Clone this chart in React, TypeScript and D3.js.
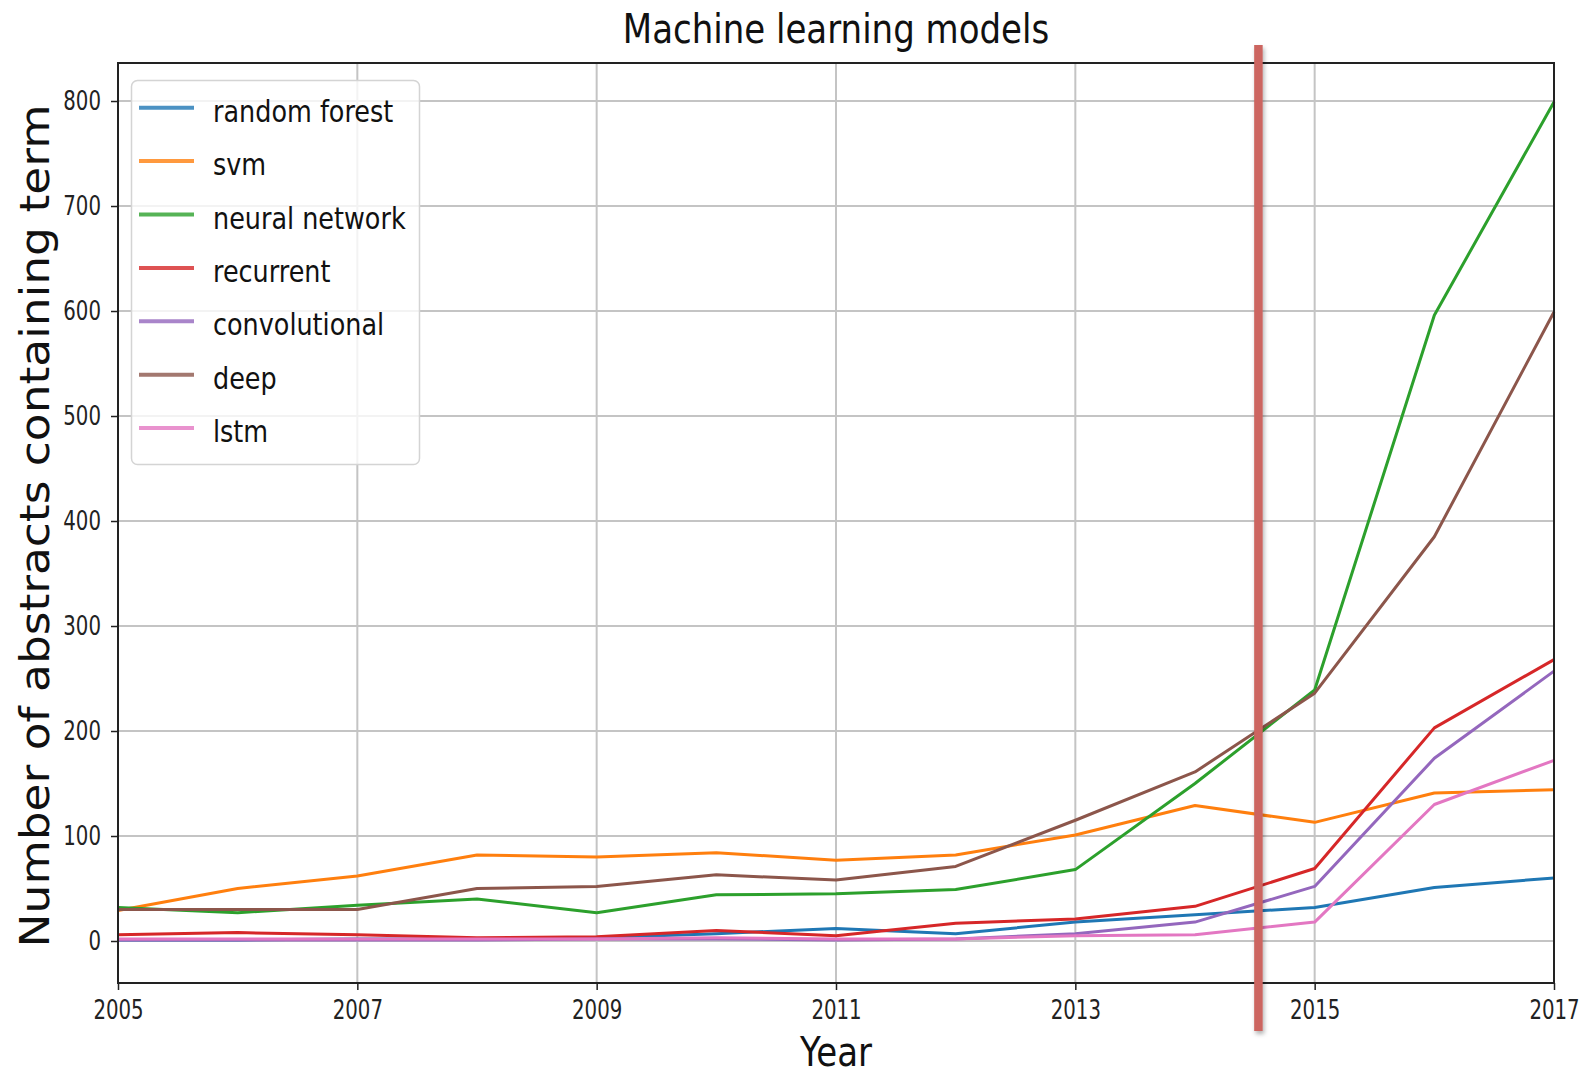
import { useEffect, useRef } from "react";
import * as d3 from "d3";

const years = [2005, 2006, 2007, 2008, 2009, 2010, 2011, 2012, 2013, 2014, 2015, 2016, 2017];

const randomForest = [1, 1, 2, 2, 3, 7, 12, 7, 18, 25, 32, 51, 60];
const svm = [29, 50, 62, 82, 80, 84, 77, 82, 101, 129, 113, 141, 144];
const neuralNetwork = [32, 27, 34, 40, 27, 44, 45, 49, 68, 150, 239, 596, 799];
const recurrent = [6, 8, 6, 3, 4, 10, 5, 17, 21, 33, 69, 203, 268];
const convolutional = [1, 1, 1, 1, 2, 2, 1, 2, 7, 18, 52, 174, 257];
const deep = [30, 30, 30, 50, 52, 63, 58, 71, 115, 161, 236, 385, 599];
const lstm = [2, 2, 2, 2, 2, 3, 2, 2, 5, 6, 18, 130, 172];

const seriesNames = ["random forest", "svm", "neural network", "recurrent", "convolutional", "deep", "lstm"];
const seriesValues = [randomForest, svm, neuralNetwork, recurrent, convolutional, deep, lstm];
const colors = ["#1f77b4", "#ff7f0e", "#2ca02c", "#d62728", "#9467bd", "#8c564b", "#e377c2"];

const xTicks = [2005, 2007, 2009, 2011, 2013, 2015, 2017];
const yTicks = [0, 100, 200, 300, 400, 500, 600, 700, 800];
const markerYear = 2014.53;

const FONT = "'DejaVu Sans', 'Liberation Sans', sans-serif";

export default function App() {
  const svgRef = useRef<SVGSVGElement>(null);

  useEffect(() => {
    if (!svgRef.current) return;
    const svg = d3.select(svgRef.current);
    svg.selectAll("*").remove();

    const W = 1585;
    const H = 1079;
    const left = 118;
    const right = 1554;
    const top = 63;
    const bottom = 983;

    const x = d3.scaleLinear().domain([2005, 2017]).range([left, right]);
    const y = d3.scaleLinear().domain([-40, 836.2]).range([bottom, top]);

    svg.attr("width", W).attr("height", H);

    const defs = svg.append("defs");
    const shadow = defs
      .append("filter")
      .attr("id", "shadow")
      .attr("filterUnits", "userSpaceOnUse")
      .attr("x", 0)
      .attr("y", 0)
      .attr("width", W)
      .attr("height", H);
    shadow
      .append("feDropShadow")
      .attr("dx", 1.5)
      .attr("dy", 3)
      .attr("stdDeviation", 2)
      .attr("flood-color", "#000")
      .attr("flood-opacity", 0.3);

    svg.append("rect").attr("width", W).attr("height", H).attr("fill", "#fff");

    // grid
    const grid = svg.append("g");
    grid
      .selectAll(".vg")
      .data(xTicks)
      .join("line")
      .attr("x1", (d) => x(d))
      .attr("x2", (d) => x(d))
      .attr("y1", top)
      .attr("y2", bottom)
      .attr("stroke", "#c4c4c4")
      .attr("stroke-width", 2);
    grid
      .selectAll(".hg")
      .data(yTicks)
      .join("line")
      .attr("x1", left)
      .attr("x2", right)
      .attr("y1", (d) => y(d))
      .attr("y2", (d) => y(d))
      .attr("stroke", "#c4c4c4")
      .attr("stroke-width", 2);

    // lines
    const line = d3
      .line<number>()
      .x((_, i) => x(years[i]))
      .y((d) => y(d));

    svg
      .append("g")
      .selectAll("path")
      .data(seriesValues)
      .join("path")
      .attr("d", (d) => line(d))
      .attr("fill", "none")
      .attr("stroke", (_, i) => colors[i])
      .attr("stroke-width", 3)
      .attr("stroke-linejoin", "round");

    // frame
    svg
      .append("rect")
      .attr("x", left)
      .attr("y", top)
      .attr("width", right - left)
      .attr("height", bottom - top)
      .attr("fill", "none")
      .attr("stroke", "#222")
      .attr("stroke-width", 2);

    // axes
    const tickScale = 0.76;
    const xAxis = svg
      .append("g")
      .attr("transform", `translate(0,${bottom})`)
      .call(d3.axisBottom(x).tickValues(xTicks).tickFormat(d3.format("d")).tickSize(7).tickPadding(11));
    xAxis.select(".domain").remove();
    xAxis.selectAll("line").attr("stroke", "#222").attr("stroke-width", 1.5);
    xAxis
      .selectAll("text")
      .attr("font-family", FONT)
      .attr("font-size", 26)
      .attr("fill", "#222")
      .attr("transform", `scale(${tickScale},1)`);

    const yAxis = svg
      .append("g")
      .attr("transform", `translate(${left},0)`)
      .call(d3.axisLeft(y).tickValues(yTicks).tickSize(7).tickPadding(10));
    yAxis.select(".domain").remove();
    yAxis.selectAll("line").attr("stroke", "#222").attr("stroke-width", 1.5);
    yAxis
      .selectAll("text")
      .attr("font-family", FONT)
      .attr("font-size", 26)
      .attr("fill", "#222")
      .attr("x", -17 / tickScale)
      .attr("transform", `scale(${tickScale},1)`);

    // title and labels
    const sx = 0.83;
    svg
      .append("text")
      .attr("transform", `translate(${(left + right) / 2},42.7) scale(${sx},1)`)
      .attr("text-anchor", "middle")
      .attr("font-family", FONT)
      .attr("font-size", 41)
      .attr("fill", "#111")
      .text("Machine learning models");

    svg
      .append("text")
      .attr("transform", `translate(${(left + right) / 2},1066) scale(${sx},1)`)
      .attr("text-anchor", "middle")
      .attr("font-family", FONT)
      .attr("font-size", 41)
      .attr("fill", "#111")
      .text("Year");

    svg
      .append("text")
      .attr("transform", `translate(49,${(top + bottom) / 2 + 3}) rotate(-90) scale(1,0.9)`)
      .attr("text-anchor", "middle")
      .attr("font-family", FONT)
      .attr("font-size", 45.5)
      .attr("fill", "#111")
      .text("Number of abstracts containing term");

    // legend
    const legend = svg.append("g");
    legend
      .append("rect")
      .attr("x", 131.5)
      .attr("y", 80.5)
      .attr("width", 288)
      .attr("height", 384)
      .attr("rx", 6)
      .attr("fill", "#fff")
      .attr("fill-opacity", 0.8)
      .attr("stroke", "#d4d4d4")
      .attr("stroke-width", 1.5);

    const items = legend
      .selectAll(".item")
      .data(seriesNames)
      .join("g")
      .attr("transform", (_, i) => `translate(0,${107.7 + i * 53.4})`);
    items
      .append("line")
      .attr("x1", 139)
      .attr("x2", 194)
      .attr("stroke", (_, i) => colors[i])
      .attr("stroke-width", 4)
      .attr("stroke-opacity", 0.8);
    items
      .append("text")
      .attr("transform", `translate(213,14) scale(${sx},1)`)
      .attr("font-family", FONT)
      .attr("font-size", 30.7)
      .attr("fill", "#111")
      .text((d) => d);

    // red marker line
    const markerWidth = 8.5;
    svg
      .append("rect")
      .attr("x", x(markerYear) - markerWidth / 2)
      .attr("y", 45)
      .attr("width", markerWidth)
      .attr("height", 1031 - 45)
      .attr("fill", "#cc6560")
      .attr("filter", "url(#shadow)");
  }, []);

  return (
    <div>
      <style>{`body{margin:0}`}</style>
      <svg ref={svgRef} style={{ display: "block" }} />
    </div>
  );
}
